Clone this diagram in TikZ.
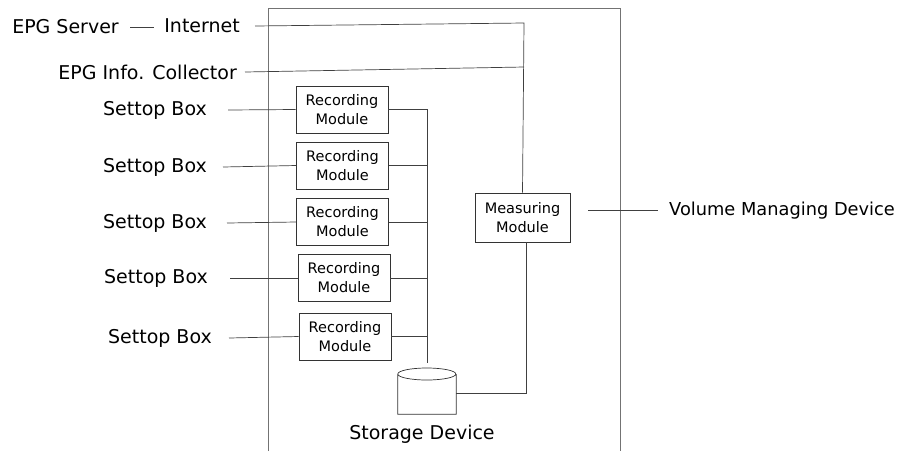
\documentclass[tikz,border=0pt]{standalone}
\usepackage{fontspec}
\setmainfont{DejaVu Sans}
\begin{document}
\begin{tikzpicture}[x=1pt,y=-1pt,
  lbl/.style={font=\fontsize{19}{21}\selectfont, inner sep=0pt},
  mod/.style={draw=black!80, line width=0.7pt, font=\fontsize{14.5}{19}\selectfont, align=center, inner sep=0pt, minimum width=92pt, minimum height=47pt},
  wire/.style={draw=black!75, line width=0.7pt},
  frame/.style={draw=black!55, line width=0.9pt}]
\useasboundingbox (0,0) rectangle (902,451);
% outer frame
\draw[frame] (268,451) -- (268,8) -- (620,8) -- (620,451);
% labels
\node[lbl, anchor=east] (epg) at (119,27) {EPG Server};
\node[lbl, anchor=east] (inet) at (240,26) {Internet};
\node[lbl, anchor=east] (coll) at (237,72) {EPG Info. Collector};
\node[lbl, anchor=east] (sb1) at (207,110) {Settop Box};
\node[lbl, anchor=east] (sb2) at (207,167) {Settop Box};
\node[lbl, anchor=east] (sb3) at (207,223) {Settop Box};
\node[lbl, anchor=east] (sb4) at (208,278) {Settop Box};
\node[lbl, anchor=east] (sb5) at (212,338) {Settop Box};
\node[lbl, anchor=west, font=\fontsize{17.8}{21}\selectfont] (vmd) at (669,211) {Volume Managing Device};
\node[lbl] (stor) at (422,434) {Storage Device};
% modules
\node[mod] (rm1) at (342,109.5) {Recording\\Module};
\node[mod] (rm2) at (342.5,165.5) {Recording\\Module};
\node[mod] (rm3) at (342.5,222) {Recording\\Module};
\node[mod] (rm4) at (344,278) {Recording\\Module};
\node[mod] (rm5) at (345,336.5) {Recording\\Module};
\node[mod, minimum width=95pt, minimum height=49pt] (mm) at (522.5,217.5) {Measuring\\Module};
% storage cylinder
\node[minimum width=58pt, minimum height=46pt, inner sep=0pt] (cyl) at (427,391) {};
\draw[draw=black!80, line width=0.7pt] (cyl.west |- 0,374) arc[start angle=180, end angle=540, x radius=29pt, y radius=6pt]
  -- (cyl.south west) -- (cyl.south east) -- (cyl.east |- 0,374);
% coordinates
\coordinate (c1) at (524,23);
\coordinate (c2) at (524,67);
\coordinate (bt) at (427,109.5);
\coordinate (bb) at (427,363);
\coordinate (c3) at (526,393);
% connectors
\draw[wire] ([xshift=11pt]epg.east) -- ([xshift=-10pt]inet.west |- epg.east);
\draw[wire] ([xshift=15pt]inet.east) -- (c1) -- (mm.north);
\draw[wire] ([xshift=8pt]coll.east) -- (c2);
\draw[wire] ([xshift=21pt]sb1.east) -- (rm1.west);
\draw[wire] ([xshift=16pt]sb2.east) -- (rm2.west);
\draw[wire] ([xshift=20pt]sb3.east) -- (rm3.west);
\draw[wire] ([xshift=22pt]sb4.east) -- (rm4.west);
\draw[wire] ([xshift=17pt]sb5.east) -- (rm5.west);
\draw[wire] (rm1.east) -- (bt) -- (bb);
\draw[wire] (rm2.east) -- (rm2.east -| bt);
\draw[wire] (rm3.east) -- (rm3.east -| bt);
\draw[wire] (rm4.east) -- (rm4.east -| bt);
\draw[wire] (rm5.east) -- (rm5.east -| bt);
\draw[wire] (cyl.east |- c3) -- (c3) -- (mm.south -| c3);
\draw[wire] ([xshift=18pt,yshift=1pt]mm.east |- vmd.west) -- ([xshift=-11pt,yshift=1pt]vmd.west);
\end{tikzpicture}
\end{document}
